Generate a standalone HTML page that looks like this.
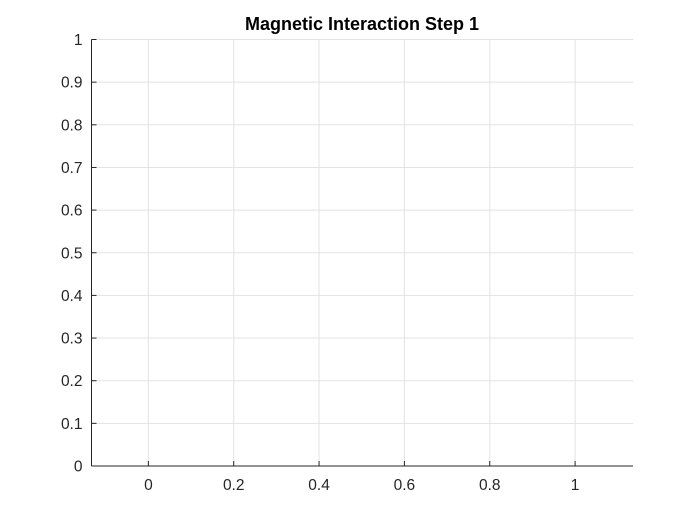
<!DOCTYPE html>
<html><head><meta charset="utf-8"><style>
html,body{margin:0;padding:0;background:#fff;}
svg{display:block;font-family:"Liberation Sans",Arial,sans-serif;}
</style></head><body>
<svg id="chart" width="700" height="525" viewBox="0 0 700 525">
<rect width="700" height="525" fill="#fff"/>
<text x="362" y="30" text-anchor="middle" font-size="18" font-weight="bold" fill="#000">Magnetic Interaction Step 1</text>
<g id="grid"></g>
<g id="axes"></g>
</svg>
<script>
const xTicks=[0,0.2,0.4,0.6,0.8,1];
const yTicks=[0,0.1,0.2,0.3,0.4,0.5,0.6,0.7,0.8,0.9,1];
const xLabels=["0","0.2","0.4","0.6","0.8","1"];
const yLabels=["0","0.1","0.2","0.3","0.4","0.5","0.6","0.7","0.8","0.9","1"];
const L=91.5,R=633,T=39.5,B=466;
const xMin=-0.1333,xMax=1.1357;
const X=v=>L+(v-xMin)/(xMax-xMin)*(R-L);
const Y=v=>B-(v-0)/(1-0)*(B-T);
const ns="http://www.w3.org/2000/svg";
const grid=document.getElementById('grid'),axes=document.getElementById('axes');
function mk(tag,attrs,parent){const e=document.createElementNS(ns,tag);for(const k in attrs)e.setAttribute(k,attrs[k]);parent.appendChild(e);return e;}
xTicks.forEach((v,i)=>{
 const g=mk('line',{x1:X(v),x2:X(v),y1:T,y2:B,stroke:'#e3e3e3','stroke-width':1},grid);
 
 
 const t=mk('line',{x1:X(v),x2:X(v),y1:B,y2:B-5,stroke:'#262626','stroke-width':1},axes);
 
 
 const l=mk('text',{x:X(v),y:B+24,'text-anchor':'middle','font-size':15.5,fill:'#262626'},axes);
 l.textContent=xLabels[i];
 
 
});
yTicks.forEach((v,i)=>{
 const g=mk('line',{x1:L,x2:R,y1:Y(v),y2:Y(v),stroke:'#e3e3e3','stroke-width':1},grid);
 
 
 const t=mk('line',{x1:L,x2:L+5,y1:Y(v),y2:Y(v),stroke:'#262626','stroke-width':1},axes);
 
 
 const l=mk('text',{x:L-9,y:Y(v)+5.5,'text-anchor':'end','font-size':15.5,fill:'#262626'},axes);
 l.textContent=yLabels[i];
 
 
});
const xa=mk('line',{x1:L,x2:R,y1:B,y2:B,stroke:'#262626','stroke-width':1},axes);


const ya=mk('line',{x1:L,x2:L,y1:T,y2:B,stroke:'#262626','stroke-width':1},axes);


</script>
</body></html>
